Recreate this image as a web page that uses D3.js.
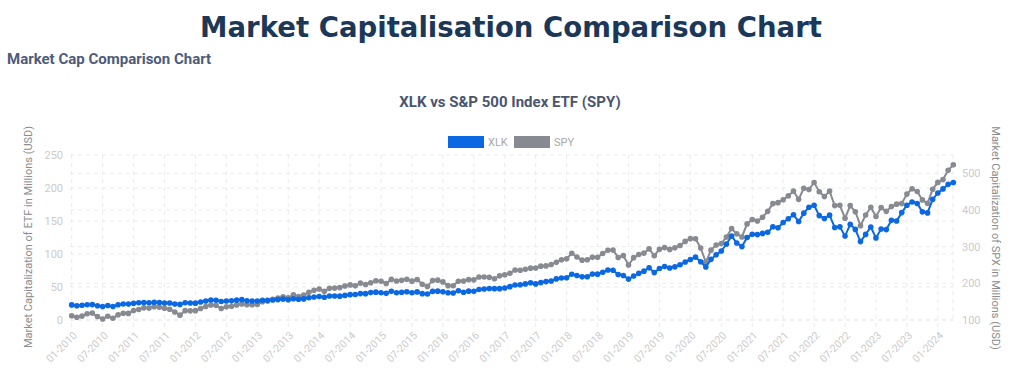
<!DOCTYPE html>
<html>
<head>
<meta charset="utf-8">
<script src="https://cdn.jsdelivr.net/npm/d3@7"></script>
<style>
  body { margin: 0; background: #fff; }
  svg { display: block; }
</style>
</head>
<body>
<div id="workspace"></div>
<script>
// monthly points, Jan 2010 .. Apr 2024 (value plotted = close of previous month)
var startMonth = new Date(2010, 0, 1);
var months = d3.timeMonth.range(startMonth, new Date(2024, 4, 1)).map(d3.timeFormat("%m-%Y"));

var xlk = [22.9,
  21.5,22.3,23.1,23.3,21.7,20.4,21.9,20.5,23.0,24.2,24.1,25.2,
  26.1,26.6,26.1,26.9,26.6,25.7,25.7,24.1,23.6,26.1,25.7,25.5,
  27.2,28.7,30.2,29.9,28.0,28.7,29.0,30.1,30.8,29.0,28.7,28.9,
  29.9,30.0,30.3,30.8,31.7,30.6,32.1,31.4,32.0,33.7,34.9,35.7,
  34.5,36.3,36.4,36.1,37.3,38.4,38.6,40.0,39.9,41.5,42.2,41.4,
  40.4,43.4,41.4,42.0,42.9,41.4,42.6,39.9,39.5,43.3,43.7,42.8,
  41.2,41.0,44.4,42.0,43.7,43.4,46.2,46.9,47.8,47.5,47.5,48.4,
  50.5,53.0,53.3,54.7,56.4,54.7,56.7,58.2,59.1,62.3,63.6,64.0,
  69.4,67.3,65.4,65.6,69.6,69.5,72.2,75.8,75.3,68.9,67.5,62.0,
  66.5,70.7,74.0,79.0,71.8,78.0,80.9,78.8,80.5,83.7,87.9,91.7,
  95.2,88.3,80.4,91.9,98.8,104.5,115.1,127.1,116.7,111.2,125.0,130.0,
  129.4,131.2,132.8,141.2,139.8,147.7,153.3,159.4,149.3,161.9,170.9,173.9,
  158.2,153.8,158.9,140.1,141.1,127.1,144.9,137.3,118.8,129.7,140.9,124.4,
  137.9,137.0,151.0,149.9,162.7,173.9,178.9,176.6,163.9,162.3,182.7,192.5,
  198.6,205.5,208.3];

var spy = [111.4,
  107.4,110.7,117.0,118.8,109.4,102.9,110.3,104.9,114.1,118.5,118.0,125.8,
  128.7,133.2,132.5,136.4,134.9,131.9,129.3,121.9,113.2,125.5,124.9,125.5,
  131.3,137.0,140.8,139.9,131.5,136.1,137.7,141.2,143.9,141.4,141.5,142.4,
  149.7,151.6,156.7,159.7,163.5,160.4,168.7,163.7,168.0,175.8,181.0,184.7,
  178.2,186.3,187.0,188.3,192.7,195.7,193.1,200.7,197.0,201.7,207.2,205.5,
  199.5,210.7,206.4,208.5,211.1,205.9,210.5,197.7,191.6,207.9,208.7,203.9,
  193.7,193.6,205.5,206.3,210.0,209.5,217.1,217.4,216.3,212.6,220.4,223.5,
  227.5,236.5,235.7,238.1,241.4,241.8,246.8,247.5,251.2,257.2,264.5,266.9,
  281.9,271.7,263.2,264.5,270.9,271.3,281.3,290.3,290.7,270.6,275.7,249.9,
  270.1,278.7,282.5,294.0,275.3,293.0,297.4,292.5,296.8,303.3,314.3,321.9,
  321.7,296.3,257.8,290.5,304.3,308.4,326.5,349.3,334.9,326.5,362.1,373.9,
  370.1,380.4,396.3,417.3,420.0,428.1,438.5,451.6,429.1,459.3,455.6,475.0,
  449.9,436.6,451.6,412.0,412.9,377.3,412.0,395.2,357.2,386.2,407.7,382.4,
  406.5,396.3,409.4,415.9,417.9,443.3,457.8,450.4,427.5,418.2,456.4,475.3,
  482.9,508.1,523.1];

var leftTicks = [0, 50, 100, 150, 200, 250];
var rightTicks = [100, 200, 300, 400, 500];
var xTickLabels = months.filter(function(m, i) { return i % 6 == 0; });

var blue = "#0a68e3", grey = "#878a91";

var svg = d3.select("#workspace")
	.append("svg")
	.attr("width", 1024)
	.attr("height", 377);

var x = d3.scalePoint().domain(months).range([71.7, 953.3]);
var yL = d3.scaleLinear().domain([0, 250]).range([320, 155]);
var yR = d3.scaleLinear().domain([100, 550]).range([320, 155]);

// titles
var title = svg.append("text")
	.attr("x", 511)
	.attr("y", 37)
	.attr("text-anchor", "middle")
	.attr("font-family", "'DejaVu Sans', sans-serif")
	.attr("font-weight", 700)
	.attr("font-size", "28px")
	.attr("fill", "#1c3858")
	.text("Market Capitalisation Comparison Chart");
var tw = title.node().getComputedTextLength();
title.attr("font-size", (28 * 622 / tw) + "px");

svg.append("text")
	.attr("x", 7)
	.attr("y", 64)
	.attr("font-family", "Roboto, sans-serif")
	.attr("font-weight", 700)
	.attr("font-size", "15px")
	.attr("fill", "#4d5c7b")
	.text("Market Cap Comparison Chart");

svg.append("text")
	.attr("x", 510)
	.attr("y", 107)
	.attr("text-anchor", "middle")
	.attr("font-family", "Roboto, sans-serif")
	.attr("font-weight", 700)
	.attr("font-size", "15px")
	.attr("fill", "#4a5670")
	.text("XLK vs S&P 500 Index ETF (SPY)");

// legend
var legend = [["XLK", blue, 448], ["SPY", grey, 514]];
legend.forEach(function(l) {
	svg.append("rect")
		.attr("x", l[2]).attr("y", 136)
		.attr("width", 36).attr("height", 12)
		.attr("fill", l[1]);
	svg.append("text")
		.attr("x", l[2] + 40).attr("y", 146)
		.attr("font-family", "Roboto, sans-serif")
		.attr("font-size", "11px")
		.attr("fill", "#a8a8a8")
		.text(l[0]);
});

// grid
var grid = svg.append("g")
	.attr("stroke", "#ebebeb")
	.attr("stroke-dasharray", "4,4")
	.attr("stroke-width", 1);
leftTicks.forEach(function(t) {
	grid.append("line").attr("x1", 70).attr("x2", 953).attr("y1", yL(t)).attr("y2", yL(t));
});
rightTicks.forEach(function(t) {
	grid.append("line").attr("x1", 70).attr("x2", 953).attr("y1", yR(t)).attr("y2", yR(t));
});
xTickLabels.forEach(function(m) {
	grid.append("line").attr("x1", x(m)).attr("x2", x(m)).attr("y1", 155).attr("y2", 328);
});
grid.append("line").attr("x1", 953).attr("x2", 953).attr("y1", 155).attr("y2", 320);

// axes labels
var tickFont = "Roboto, sans-serif";
leftTicks.forEach(function(t) {
	svg.append("text")
		.attr("x", 63).attr("y", yL(t) + 4)
		.attr("text-anchor", "end")
		.attr("font-family", tickFont).attr("font-size", "11px")
		.attr("fill", "#cbcbcb")
		.text(t);
});
rightTicks.forEach(function(t) {
	svg.append("text")
		.attr("x", 962).attr("y", yR(t) + 4)
		.attr("font-family", tickFont).attr("font-size", "11px")
		.attr("fill", "#cbcbcb")
		.text(t);
});
xTickLabels.forEach(function(m) {
	svg.append("text")
		.attr("transform", "translate(" + (x(m) + 6) + ",336) rotate(-45)")
		.attr("text-anchor", "end")
		.attr("font-family", tickFont).attr("font-size", "10.5px")
		.attr("fill", "#cbcbcb")
		.text(m);
});

svg.append("text")
	.attr("transform", "translate(32,237) rotate(-90)")
	.attr("text-anchor", "middle")
	.attr("font-family", tickFont).attr("font-size", "11px")
	.attr("fill", "#8c8c8c")
	.text("Market Capitalization of ETF in Millions (USD)");
svg.append("text")
	.attr("transform", "translate(992,238) rotate(90)")
	.attr("text-anchor", "middle")
	.attr("font-family", tickFont).attr("font-size", "11px")
	.attr("fill", "#8c8c8c")
	.text("Market Capitalization of SPX in Millions (USD)");

// series (first dataset on top, like the original)
function drawSeries(vals, yScale, color) {
	var g = svg.append("g");
	var line = d3.line()
		.x(function(d, i) { return x(months[i]); })
		.y(function(d) { return yScale(d); });
	g.append("path")
		.datum(vals)
		.attr("d", line)
		.attr("fill", "none")
		.attr("stroke", color)
		.attr("stroke-width", 2);
	g.selectAll("circle")
		.data(vals)
		.enter().append("circle")
		.attr("cx", function(d, i) { return x(months[i]); })
		.attr("cy", function(d) { return yScale(d); })
		.attr("r", 2.8)
		.attr("fill", color);
}
drawSeries(spy, yR, grey);
drawSeries(xlk, yL, blue);
</script>
</body>
</html>
